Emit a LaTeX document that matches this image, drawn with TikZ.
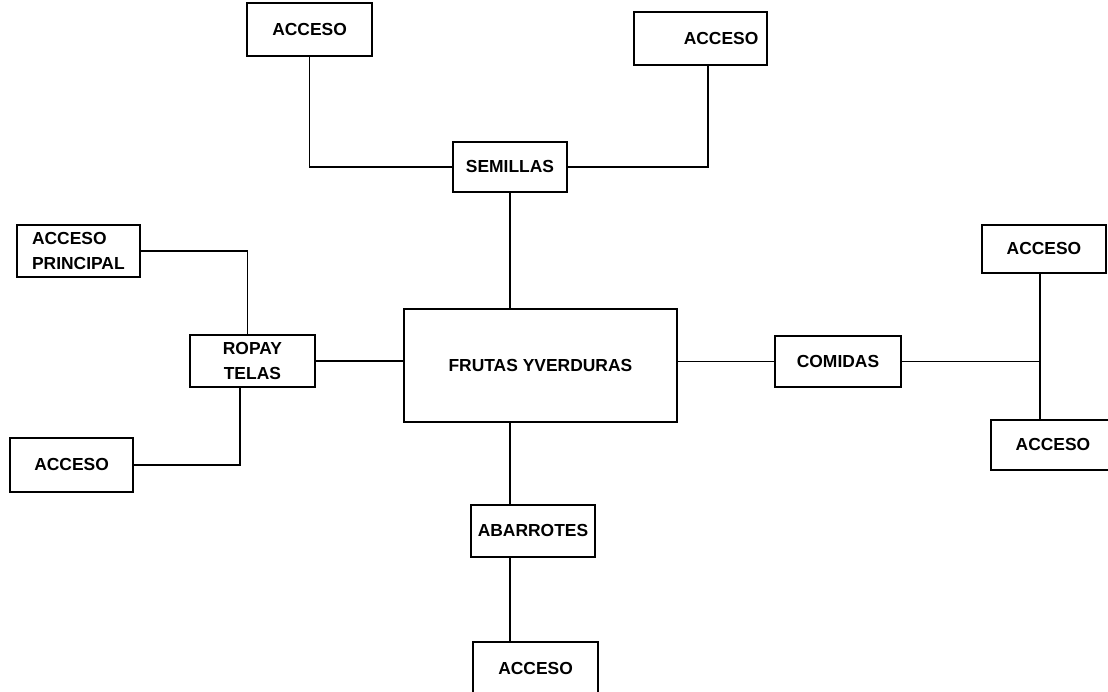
\documentclass[tikz,border=0pt]{standalone}
\usepackage{fontspec}
\setmainfont{Liberation Sans}
\usetikzlibrary{positioning, calc}

\begin{document}
\begin{tikzpicture}[
    % Node styles
    area/.style={
        rectangle, draw=black, line width=0.9pt,
        minimum width=#1, minimum height=1.3cm,
        align=center, inner sep=2pt,
        font=\fontsize{12.4}{17.5}\selectfont\bfseries
    },
    area/.default=3.1cm,
    plaza/.style={area=6.825cm, minimum height=2.825cm},
    link/.style={line width=0.9pt, draw=black},
]

\useasboundingbox (0,0) rectangle (27.7,-17.3);
\clip (0,0) rectangle (27.7,-17.3);

% ═══════════════════════════════════════════════════════════════
% Centre
% ═══════════════════════════════════════════════════════════════

\node[plaza] (frutas) at (13.51,-9.14) {FRUTAS YVERDURAS};

% ═══════════════════════════════════════════════════════════════
% Top: semillas
% ═══════════════════════════════════════════════════════════════

\node[area=2.85cm, minimum height=1.25cm] (semillas) at (12.75,-4.175) {SEMILLAS};
\node[area=3.125cm, minimum height=1.325cm] (accA) at (7.74,-0.74) {ACCESO};
\node[area=3.325cm, minimum height=1.325cm, text width=2.9cm, align=right,
      inner xsep=0.2cm] (accB) at (17.51,-0.96) {ACCESO};

\draw[link] (accA.south) |- (semillas.west);
\draw[link] (semillas.east) -| ([xshift=0.19cm]accB.south);
\draw[link] (semillas.south) -- (semillas.south |- frutas.north);

% ═══════════════════════════════════════════════════════════════
% Left: ropa y telas
% ═══════════════════════════════════════════════════════════════

\node[area=3.125cm] (ropa) at (6.31,-9.025) {ROPAY\\TELAS};
\node[area=3.075cm, align=left] (accPrin) at (1.96,-6.275) {ACCESO\\PRINCIPAL};
\node[area=3.075cm, minimum height=1.35cm] (accC) at (1.79,-11.625) {ACCESO};

\draw[link] (accPrin.east) -| ([xshift=-0.12cm]ropa.north);
\draw[link] (ropa.east) -- (ropa.east -| frutas.west);
\draw[link] ([xshift=-0.31cm]ropa.south) |- (accC.east);

% ═══════════════════════════════════════════════════════════════
% Bottom: abarrotes
% ═══════════════════════════════════════════════════════════════

\node[area=3.1cm] (abarrotes) at (13.325,-13.275) {ABARROTES};
\node[area=3.125cm] (accD) at (13.39,-16.7) {ACCESO};

\draw[link] (semillas.south |- frutas.south) -- (semillas.south |- abarrotes.north);
\draw[link] (semillas.south |- abarrotes.south) -- (semillas.south |- accD.north);

% ═══════════════════════════════════════════════════════════════
% Right: comidas
% ═══════════════════════════════════════════════════════════════

\node[area=3.15cm, minimum height=1.275cm] (comidas) at (20.95,-9.04) {COMIDAS};
\node[area=3.1cm, minimum height=1.2cm] (accE) at (26.1,-6.225) {ACCESO};
\node[area=3.1cm, minimum height=1.25cm] (accF) at (26.325,-11.125) {ACCESO};

\coordinate (cruce) at ([xshift=-0.1cm]accE.south |- comidas.east);

\draw[link] (frutas.east |- comidas.west) -- (comidas.west);
\draw[link] (comidas.east) -- (cruce);
\draw[link] ([xshift=-0.1cm]accE.south) -- ([xshift=-0.1cm]accE.south |- accF.north);

\end{tikzpicture}
\end{document}
